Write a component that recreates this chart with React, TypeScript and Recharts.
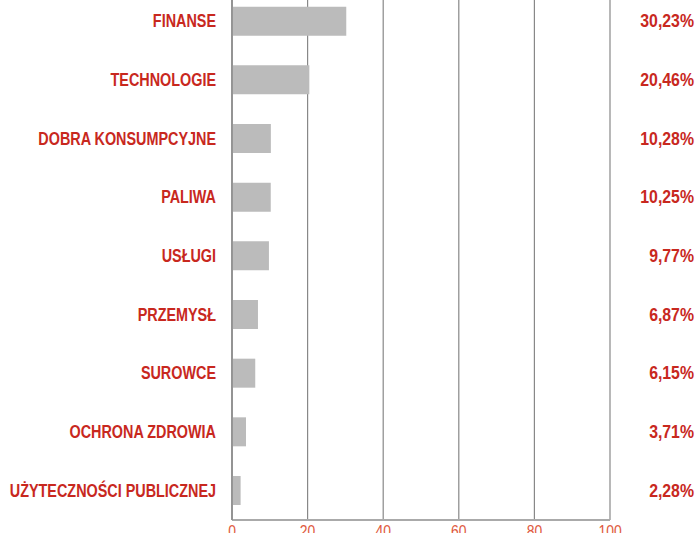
import { BarChart, Bar, XAxis, YAxis, CartesianGrid, LabelList } from "recharts";

const categories = [
  "FINANSE",
  "TECHNOLOGIE",
  "DOBRA KONSUMPCYJNE",
  "PALIWA",
  "USŁUGI",
  "PRZEMYSŁ",
  "SUROWCE",
  "OCHRONA ZDROWIA",
  "UŻYTECZNOŚCI PUBLICZNEJ",
];
const shares = [30.23, 20.46, 10.28, 10.25, 9.77, 6.87, 6.15, 3.71, 2.28];
const xTicks = [0, 20, 40, 60, 80, 100];

const data = categories.map((name, i) => ({ name, value: shares[i] }));

const RED = "#c8281e";
// no narrow font available, so squeeze Liberation Sans horizontally
const FONT = "'Liberation Sans', Arial, sans-serif";
const SQUEEZE = "scale(0.82,1)";

const fmt = (v: number) => v.toFixed(2).replace(".", ",") + "%";

const CatTick = ({ x, y, payload }: any) => (
  <g transform={`translate(${x},${y})`}>
    <text transform="scale(0.8,1)" dy={6} textAnchor="end" fill={RED} fontWeight="bold" fontSize={18} fontFamily={FONT}>
      {payload.value}
    </text>
  </g>
);

const AxisTick = ({ x, y, payload }: any) => (
  <g transform={`translate(${x},${y})`}>
    <text transform={SQUEEZE} dy={14} textAnchor="middle" fill="#e05a40" fontSize={17} fontFamily={FONT}>
      {payload.value}
    </text>
  </g>
);

const ValueLabel = ({ y, height, value }: any) => (
  <g transform={`translate(694,${y + height / 2})`}>
    <text transform="scale(0.88,1)" dy={6} textAnchor="end" fill={RED} fontWeight="bold" fontSize={18} fontFamily={FONT}>
      {fmt(value)}
    </text>
  </g>
);

export default function App() {
  return (
    <div style={{ position: "fixed", left: 0, top: 0, width: 696, height: 533, overflow: "hidden", background: "#fff" }}>
      <div style={{ position: "relative", top: -8 }}>
        <BarChart
          width={696}
          height={570}
          data={data}
          layout="vertical"
          margin={{ top: 0, right: 86, bottom: 0, left: 0 }}
          barCategoryGap="25%"
        >
          <CartesianGrid horizontal={false} stroke="#888" strokeWidth={1.2} />
          <XAxis
            type="number"
            domain={[0, 100]}
            ticks={xTicks}
            height={42}
            axisLine={{ stroke: "#aaa", strokeWidth: 2 }}
            tickLine={false}
            tickSize={0}
            tickMargin={3}
            tick={<AxisTick />}
          />
          <YAxis
            type="category"
            dataKey="name"
            width={232}
            axisLine={{ stroke: "#888", strokeWidth: 1.5 }}
            tickLine={false}
            tickSize={0}
            tickMargin={16}
            interval={0}
            tick={<CatTick />}
          />
          <Bar dataKey="value" fill="#bbbbbb" isAnimationActive={false}>
            <LabelList dataKey="value" content={<ValueLabel />} />
          </Bar>
        </BarChart>
      </div>
    </div>
  );
}
